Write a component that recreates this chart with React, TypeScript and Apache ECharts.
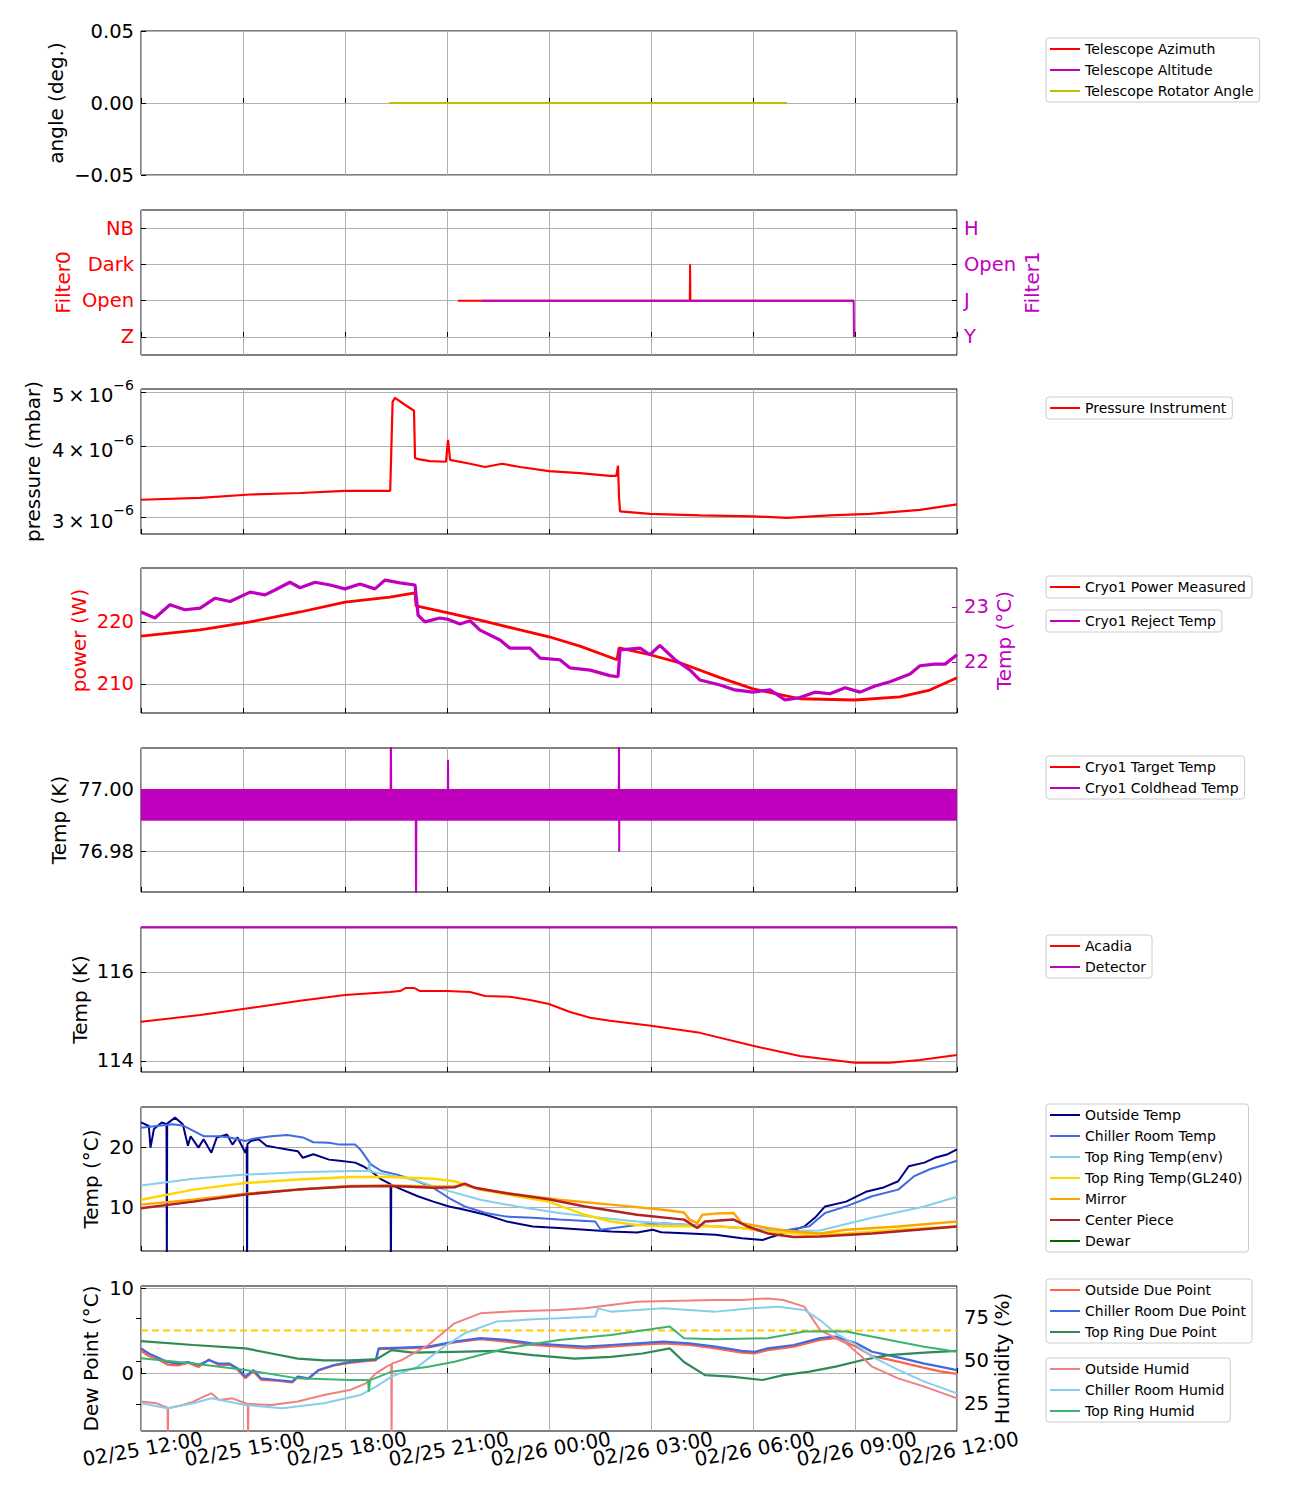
import React, { useEffect, useRef } from "react";
import * as echarts from "echarts";

const FONT = "DejaVu Sans";

// ---------- x axis (hours after 02/25 12:00) ----------
const timeTickLabels = [
  "02/25 12:00", "02/25 15:00", "02/25 18:00", "02/25 21:00", "02/26 00:00",
  "02/26 03:00", "02/26 06:00", "02/26 09:00", "02/26 12:00",
];
const timeTickHours = [0, 3, 6, 9, 12, 15, 18, 21, 24];

// ---------- panel 1 : telescope angles ----------
const telescopeAzimuth = [[7.32, 0], [19.0, 0]];
const telescopeAltitude = [[7.32, 0], [19.0, 0]];
const telescopeRotator = [[7.32, 0], [19.0, 0]];

// ---------- panel 2 : filters ----------
const filter0Labels = ["Z", "Open", "Dark", "NB"];
const filter1Labels = ["Y", "J", "Open", "H"];
const filter0 = [[9.32, 1], [16.14, 1], [16.15, 2], [16.16, 1], [20.97, 1]];
const filter1 = [[10.03, 1], [20.96, 1], [20.97, 0]];

// ---------- panel 3 : pressure (x1e-6 mbar) ----------
const pressureTicks = [3, 4, 5];
const pressure = [
  [0, 3.22], [1.74, 3.245], [3.21, 3.29], [4.68, 3.31], [6.0, 3.34], [7.33, 3.34],
  [7.40, 4.80], [7.47, 4.88], [7.75, 4.75], [8.03, 4.63], [8.06, 3.82], [8.15, 3.80],
  [8.5, 3.77], [8.97, 3.76], [9.03, 4.11], [9.09, 3.79], [9.68, 3.73], [10.12, 3.68],
  [10.62, 3.73], [11.15, 3.68], [12.0, 3.62], [12.91, 3.59], [13.79, 3.55], [13.98, 3.55],
  [14.03, 3.70], [14.06, 3.25], [14.09, 3.07], [14.97, 3.04], [16.44, 3.02], [18.0, 3.01],
  [19.0, 2.99], [20.26, 3.02], [21.44, 3.04], [22.91, 3.09], [24, 3.16],
];

// ---------- panel 4 : cryo power / reject temp ----------
const cryoPower = [
  [0, 217.7], [1.74, 218.7], [3.21, 220.0], [4.68, 221.6], [6.0, 223.2], [7.32, 224.0],
  [8.06, 224.7], [8.09, 222.6], [9.0, 221.5], [9.97, 220.3], [11.15, 218.7], [12.0, 217.6],
  [12.91, 216.1], [14.0, 213.9], [14.06, 215.8], [14.97, 214.7], [15.85, 213.4], [17.03, 211.0],
  [18.0, 209.2], [19.38, 207.6], [21.0, 207.4], [22.32, 207.9], [23.2, 209.0], [24, 211.0],
];
const cryoReject = [
  [0, 22.91], [0.41, 22.80], [0.85, 23.04], [1.29, 22.95], [1.74, 22.98], [2.18, 23.16],
  [2.62, 23.10], [3.21, 23.27], [3.65, 23.22], [3.94, 23.31], [4.38, 23.45], [4.68, 23.35],
  [5.12, 23.45], [5.56, 23.40], [6.0, 23.33], [6.44, 23.42], [6.88, 23.33], [7.18, 23.49],
  [7.62, 23.44], [8.06, 23.40], [8.15, 22.85], [8.35, 22.73], [8.79, 22.80], [9.0, 22.78],
  [9.38, 22.69], [9.68, 22.75], [9.97, 22.58], [10.56, 22.40], [10.85, 22.25], [11.44, 22.25],
  [11.74, 22.07], [12.32, 22.04], [12.62, 21.89], [13.21, 21.85], [13.79, 21.75], [14.03, 21.73],
  [14.09, 22.22], [14.68, 22.25], [14.97, 22.13], [15.26, 22.30], [15.71, 22.04], [16.15, 21.85],
  [16.44, 21.67], [17.03, 21.58], [17.47, 21.49], [18.0, 21.45], [18.5, 21.49], [18.94, 21.31],
  [19.38, 21.35], [19.82, 21.45], [20.26, 21.42], [20.71, 21.53], [21.15, 21.45], [21.59, 21.56],
  [22.03, 21.64], [22.62, 21.78], [22.91, 21.93], [23.35, 21.96], [23.65, 21.96], [24, 22.13],
];

// ---------- panel 5 : cryo temps (K) ----------
const cryoTarget = [[0, 77.0], [24, 77.0]];
const coldheadBandLow = 76.99;
const coldheadBandHigh = 77.0;
const coldhead = [
  [0, 76.995], [7.34, 76.995], [7.35, 77.02], [7.36, 76.995], [8.08, 76.995], [8.09, 76.96],
  [8.10, 76.995], [9.02, 76.995], [9.03, 77.0097], [9.04, 76.995], [14.05, 76.995], [14.06, 77.02],
  [14.065, 76.98], [14.07, 76.995], [24, 76.995],
];

// ---------- panel 6 : acadia / detector ----------
const acadia = [
  [0, 114.88], [1.74, 115.03], [3.21, 115.19], [4.68, 115.35], [6.0, 115.48], [7.32, 115.55],
  [7.62, 115.57], [7.79, 115.64], [8.03, 115.64], [8.21, 115.57], [9.0, 115.57], [9.68, 115.55],
  [10.12, 115.46], [10.85, 115.44], [11.44, 115.37], [12.0, 115.28], [12.62, 115.10], [13.21, 114.97],
  [13.79, 114.90], [15.0, 114.79], [16.44, 114.63], [18.0, 114.34], [19.38, 114.11], [21.0, 113.96],
  [22.03, 113.96], [22.91, 114.02], [24, 114.13],
];
const detector = [[0, 117.0], [24, 117.0]];

// ---------- panel 7 : temperatures (°C) ----------
const outsideTemp = [
  [0, 24.1], [0.23, 23.5], [0.28, 19.9], [0.38, 23.0], [0.61, 24.1], [0.75, 23.8], [0.76, 0], [0.77, 23.9],
  [1.0, 24.9], [1.23, 23.8], [1.38, 20.2], [1.46, 21.8], [1.69, 19.9], [1.84, 21.3], [2.07, 19.05],
  [2.23, 21.6], [2.53, 22.1], [2.69, 20.4], [2.84, 21.6], [3.07, 19.05], [3.11, 20.0], [3.12, 0],
  [3.13, 20.5], [3.23, 21.0], [3.46, 21.3], [3.69, 20.2], [3.99, 19.9], [4.30, 19.6], [4.61, 19.3],
  [4.76, 18.2], [5.07, 18.8], [5.53, 17.9], [5.84, 17.7], [6.30, 17.4], [6.53, 16.8], [6.76, 16.0],
  [7.07, 14.6], [7.34, 13.8], [7.35, 0], [7.36, 13.7], [7.68, 12.9], [8.14, 11.8], [8.60, 10.9],
  [9.06, 10.1], [9.52, 9.55], [10.14, 8.7], [10.75, 7.6], [11.52, 6.76], [12.29, 6.5], [13.06, 6.2],
  [13.82, 5.9], [14.59, 5.75], [15.05, 6.2], [15.3, 5.8], [16.13, 5.6], [16.9, 5.36], [17.67, 4.8],
  [18.28, 4.5], [18.59, 5.1], [19.05, 5.9], [19.51, 6.76], [19.82, 8.2], [20.12, 10.1], [20.74, 10.9],
  [21.35, 12.6], [21.81, 13.2], [22.27, 14.3], [22.58, 16.8], [23.04, 17.4], [23.35, 18.2],
  [23.73, 18.8], [24, 19.6],
];
const chillerTemp = [
  [0, 23.2], [0.46, 23.5], [0.92, 23.8], [1.23, 23.6], [1.54, 22.7], [1.84, 21.8], [2.30, 21.8],
  [2.61, 21.6], [3.07, 21.0], [3.30, 21.4], [3.84, 21.8], [4.30, 22.0], [4.76, 21.6], [5.07, 20.8],
  [5.53, 20.7], [5.84, 20.4], [6.30, 20.4], [6.45, 19.6], [6.76, 17.1], [7.07, 16.0], [7.53, 15.4],
  [7.99, 14.6], [8.60, 13.2], [9.06, 11.5], [9.52, 10.1], [10.14, 9.0], [10.75, 8.4], [11.52, 8.2],
  [12.29, 7.9], [13.36, 7.6], [13.52, 6.2], [14.59, 7.0], [15.36, 7.3], [16.13, 7.0], [16.9, 6.8],
  [17.67, 6.5], [18.43, 5.9], [19.05, 6.2], [19.66, 6.8], [20.12, 9.0], [20.74, 10.1], [21.5, 11.8],
  [22.27, 12.9], [22.73, 15.1], [23.2, 16.3], [23.66, 17.1], [24, 17.7],
];
const topRingEnvTemp = [
  [0, 13.6], [1.54, 14.7], [3.07, 15.4], [4.61, 15.8], [6.14, 16.0], [6.68, 16.0], [6.71, 17.4],
  [6.74, 15.9], [7.22, 15.4], [7.99, 14.6], [8.91, 12.9], [9.98, 11.2], [11.06, 10.1], [12.29, 9.0],
  [13.52, 8.2], [14.59, 7.6], [16.13, 7.0], [17.67, 6.5], [19.2, 6.0], [19.97, 6.1], [21.5, 8.2],
  [23.04, 10.1], [24, 11.7],
];
const topRingGL240Temp = [
  [0, 11.2], [1.54, 12.9], [3.07, 14.0], [4.61, 14.6], [6.14, 15.0], [7.37, 15.0], [8.60, 14.7],
  [9.22, 14.3], [9.98, 12.9], [11.06, 11.8], [11.98, 10.9], [13.06, 8.7], [13.82, 7.6], [14.59, 7.0],
  [15.36, 6.8], [16.9, 6.8], [17.67, 6.5], [18.43, 5.9], [19.66, 5.4], [20.74, 5.6], [22.27, 6.2],
  [24, 6.76],
];
const mirrorTemp = [
  [0, 10.4], [1.54, 11.2], [3.07, 12.2], [4.61, 12.9], [6.14, 13.5], [7.37, 13.6], [8.60, 13.4],
  [9.22, 13.4], [9.52, 13.7], [9.98, 12.9], [11.06, 12.1], [12.29, 11.2], [13.82, 10.4], [15.36, 9.55],
  [15.97, 9.1], [16.13, 7.9], [16.36, 7.3], [16.51, 8.7], [16.9, 8.9], [17.43, 9.0], [17.67, 7.3],
  [18.43, 6.5], [19.2, 5.9], [19.97, 5.6], [20.74, 6.2], [22.27, 6.76], [24, 7.6],
];
const centerPieceTemp = [
  [0, 9.8], [1.54, 10.9], [3.07, 12.1], [4.61, 12.9], [6.14, 13.4], [7.37, 13.5], [8.60, 13.2],
  [9.22, 13.3], [9.52, 13.9], [9.83, 13.2], [10.75, 12.3], [11.98, 11.3], [13.06, 10.1], [14.59, 8.7],
  [15.97, 7.9], [16.36, 6.5], [16.59, 7.6], [17.43, 7.9], [17.82, 6.8], [18.43, 5.6], [19.2, 5.0],
  [19.97, 5.1], [21.5, 5.6], [24, 6.76],
];
const dewarTemp: number[][] = [];

// ---------- panel 8 : dew point (°C) and humidity (%) ----------
const dewThreshold = 5;
const outsideDewPoint = [
  [0, 2.6], [0.23, 2.0], [0.46, 1.7], [0.77, 1.0], [1.08, 0.9], [1.38, 1.2], [1.69, 0.7], [2.0, 1.6],
  [2.3, 0.9], [2.61, 1.0], [2.84, 0.4], [3.07, -0.6], [3.30, 0.2], [3.53, -0.8], [3.99, -0.9],
  [4.45, -1.1], [4.61, -0.5], [4.92, -0.7], [5.22, 0.3], [5.68, 0.9], [6.14, 1.2], [6.61, 1.4],
  [6.91, 1.5], [6.99, 2.8], [7.68, 2.9], [8.45, 3.0], [9.22, 3.6], [9.98, 4.0], [10.75, 3.7],
  [11.52, 3.3], [12.29, 3.1], [13.06, 2.9], [13.82, 3.1], [14.59, 3.3], [15.36, 3.5], [16.13, 3.3],
  [16.9, 2.9], [17.67, 2.4], [18.05, 2.3], [18.43, 2.7], [19.2, 3.1], [19.97, 3.9], [20.43, 4.1],
  [21.04, 3.1], [21.5, 2.0], [21.97, 1.6], [22.43, 1.2], [23.04, 0.6], [23.5, 0.2], [24, -0.1],
];
const chillerDewPoint = [
  [0, 2.9], [0.23, 2.3], [0.46, 1.9], [0.77, 1.3], [1.08, 1.1], [1.38, 1.3], [1.69, 0.94], [2.0, 1.5],
  [2.3, 1.1], [2.61, 1.1], [2.84, 0.55], [3.07, -0.43], [3.30, 0.35], [3.53, -0.63], [3.99, -0.82],
  [4.45, -1.0], [4.61, -0.43], [4.92, -0.63], [5.22, 0.35], [5.68, 0.94], [6.14, 1.3], [6.61, 1.5],
  [6.91, 1.6], [6.99, 2.9], [7.68, 3.0], [8.45, 3.1], [9.22, 3.7], [9.98, 4.1], [10.75, 3.9],
  [11.52, 3.5], [12.29, 3.3], [13.06, 3.1], [13.82, 3.3], [14.59, 3.5], [15.36, 3.7], [16.13, 3.5],
  [16.9, 3.1], [17.67, 2.6], [18.05, 2.5], [18.43, 2.9], [19.2, 3.3], [19.97, 4.1], [20.43, 4.3],
  [21.04, 3.5], [21.5, 2.5], [21.97, 2.1], [22.43, 1.7], [23.04, 1.1], [23.5, 0.75], [24, 0.35],
];
const topRingDewPoint = [
  [0, 3.76], [1.54, 3.3], [3.07, 2.9], [3.84, 2.3], [4.61, 1.7], [5.38, 1.5], [6.14, 1.5], [6.91, 1.6],
  [7.37, 2.7], [7.99, 2.4], [9.22, 2.5], [10.45, 2.6], [11.52, 2.1], [12.75, 1.7], [13.82, 1.9],
  [14.75, 2.3], [15.55, 2.9], [15.97, 1.3], [16.59, -0.24], [17.36, -0.43], [18.28, -0.82],
  [18.89, -0.24], [19.66, 0.16], [20.43, 0.75], [21.2, 1.5], [21.97, 2.1], [23.04, 2.4], [24, 2.6],
];
const outsideHumid = [
  [0, 26.4], [0.46, 25.4], [0.78, 22.8], [0.79, 0], [0.80, 22.5], [1.23, 24.4], [1.54, 26.4],
  [1.84, 29.3], [2.07, 31.2], [2.3, 27.3], [2.69, 28.3], [3.07, 25.4], [3.14, 25.0], [3.15, 0],
  [3.16, 25.0], [3.84, 24.4], [4.61, 26.4], [5.38, 30.2], [6.14, 33.1], [6.61, 37.0], [6.91, 42.8],
  [7.22, 46.7], [7.36, 48.0], [7.37, 0], [7.38, 48.5], [7.68, 50.6], [8.45, 59.3], [9.22, 71.9],
  [9.98, 77.7], [10.75, 78.7], [12.29, 79.7], [13.06, 80.6], [13.82, 82.6], [14.59, 84.5],
  [16.13, 85.1], [16.9, 85.5], [17.67, 85.5], [18.43, 86.4], [18.89, 85.5], [19.51, 81.6],
  [19.97, 68.0], [20.74, 60.3], [21.2, 52.5], [21.5, 46.7], [22.27, 39.9], [23.04, 35.1], [24, 28.3],
];
const chillerHumid = [
  [0, 25.4], [0.77, 22.5], [1.54, 25.4], [2.07, 28.3], [3.07, 24.4], [4.15, 22.5], [5.38, 25.4],
  [6.45, 30.2], [6.91, 35.1], [7.37, 40.9], [8.14, 46.7], [8.91, 58.3], [9.52, 66.1], [10.45, 72.9],
  [11.52, 74.2], [12.29, 74.8], [13.36, 75.8], [13.44, 80.6], [13.82, 78.7], [15.36, 80.6],
  [16.13, 79.7], [16.9, 78.7], [17.97, 80.6], [18.74, 81.6], [19.51, 79.7], [19.97, 73.8],
  [20.43, 66.1], [21.04, 59.3], [21.5, 52.5], [22.27, 44.8], [23.04, 38.0], [24, 31.2],
];
const topRingHumid = [
  [0, 51.6], [1.54, 48.6], [3.07, 44.8], [4.61, 39.9], [6.14, 38.9], [6.68, 38.9], [6.70, 32.2],
  [6.74, 38.9], [7.37, 43.8], [8.45, 46.7], [9.22, 49.6], [10.75, 57.4], [12.29, 62.2], [13.82, 65.1],
  [15.55, 70.0], [15.97, 63.2], [16.9, 62.6], [18.43, 63.2], [19.51, 67.1], [20.74, 67.1],
  [22.27, 61.2], [23.04, 58.3], [24, 55.4],
];

// ---------- layout ----------
const gridTops = [31, 210, 389, 568, 748, 927, 1107, 1286];
const gridHeights = [144, 145, 145, 145, 144, 145, 144, 145];
const GRID_COLOR = "#b0b0b0";
const RED = "#ff0000";
const MAG = "#bf00bf";
const OLIVE = "#bfbf00";

const minusFmt = (v: number, d: number) => (v < 0 ? "\u2212" : "") + Math.abs(v).toFixed(d);

function yAxisDef(o: any) {
  const color = o.color || "#000";
  const custom = o.custom;
  return {
    type: "value",
    gridIndex: o.grid,
    position: o.pos || "left",
    min: o.min,
    max: o.max,
    interval: o.interval,
    name: o.name,
    nameLocation: "middle",
    nameGap: o.nameGap,
    nameRotate: 90,
    nameMoveOverlap: false,
    nameTextStyle: { fontSize: 20, color, fontFamily: FONT },
    axisLine: { show: false },
    axisTick: {
      show: true, inside: true, length: 5,
      lineStyle: { color: o.tickColor || "#000", width: 1 },
      ...(custom ? { customValues: custom } : {}),
    },
    axisLabel: {
      show: true, fontSize: 19.5, color, fontFamily: FONT, margin: 7,
      formatter: o.formatter,
      rich: o.rich,
      ...(custom ? { customValues: custom } : {}),
    },
    splitLine: { show: (o.pos || "left") === "left", lineStyle: { color: GRID_COLOR, width: 1 } },
  };
}

function lineSeries(name: string, data: any[], color: string, xi: number, yi: number, width = 2, extra: any = {}) {
  return {
    type: "line", name, data, xAxisIndex: xi, yAxisIndex: yi,
    symbol: "none", showSymbol: false, color,
    lineStyle: { color, width }, itemStyle: { color },
    clip: true, animation: false, silent: true,
    ...extra,
  };
}

function legendDef(top: number, names: string[]) {
  return {
    data: names, orient: "vertical", left: 1046, top,
    icon: "rect",
    itemWidth: 30, itemHeight: 2, itemGap: 7,
    padding: [4, 6, 4, 4],
    borderColor: "#cccccc", borderWidth: 1, borderRadius: 3,
    backgroundColor: "#fff",
    selectedMode: false,
    textStyle: { fontSize: 14, fontFamily: FONT, color: "#000", lineHeight: 14 },
  };
}

function timeLabelAxis(values: number[], show: boolean) {
  return {
    show: true, fontSize: 20, fontFamily: FONT, color: "#000",
    rotate: 10, align: "center", verticalAlign: "top", margin: 8,
    showMinLabel: true, showMaxLabel: true, hideOverlap: false,
    customValues: values,
    formatter: (v: number) => timeTickLabels[timeTickHours.indexOf(Math.round(v))] || "",
    ...(show ? {} : { show: false }),
  };
}

function buildOption() {
  const grid = gridTops.map((t, i) => ({
    left: 141, width: 816, top: t, height: gridHeights[i],
    show: true, borderColor: "#000", borderWidth: 1, backgroundColor: "transparent",
    containLabel: false, outerBoundsMode: "none",
  }));

  const evenHours = timeTickHours.filter((_, i) => i % 2 === 0);
  const oddHours = timeTickHours.filter((_, i) => i % 2 === 1);

  const xAxis: any[] = gridTops.map((_, i) => ({
    type: "value", gridIndex: i, position: "bottom", min: 0, max: 24, interval: 3,
    axisLine: { show: false },
    axisTick: { show: true, inside: true, length: 5, lineStyle: { color: "#000", width: 1 } },
    splitLine: { show: true, lineStyle: { color: GRID_COLOR, width: 1 } },
    axisLabel: timeLabelAxis(evenHours, i === 7),
  }));
  // second label row for the bottom panel (odd ticks), so no label gets hidden as overlapping
  xAxis.push({
    type: "value", gridIndex: 7, position: "bottom", min: 0, max: 24, interval: 3,
    axisLine: { show: false },
    axisTick: { show: false },
    splitLine: { show: false },
    axisLabel: timeLabelAxis(oddHours, true),
  });

  const logP = (v: number) => Math.log10(v);

  const yAxis = [
    yAxisDef({ grid: 0, min: -0.05, max: 0.05, interval: 0.05, name: "angle (deg.)", nameGap: 75,
      formatter: (v: number) => minusFmt(v, 2) }),
    yAxisDef({ grid: 1, min: -0.5, max: 3.5, custom: [0, 1, 2, 3], name: "Filter0", nameGap: 68, color: RED,
      formatter: (v: number) => filter0Labels[Math.round(v)] || "" }),
    yAxisDef({ grid: 1, pos: "right", min: -0.5, max: 3.5, custom: [0, 1, 2, 3], name: "Filter1", nameGap: 65, color: MAG,
      formatter: (v: number) => filter1Labels[Math.round(v)] || "" }),
    yAxisDef({ grid: 2, min: logP(2.80), max: logP(5.06), custom: pressureTicks.map(logP), name: "pressure (mbar)", nameGap: 98,
      formatter: (v: number) => `{a|${Math.round(Math.pow(10, v))}\u2009\u00d7\u200910}{b|\u22126}`,
      rich: {
        a: { fontSize: 19.5, fontFamily: FONT, color: "#000", verticalAlign: "bottom", lineHeight: 28 },
        b: { fontSize: 14, fontFamily: FONT, color: "#000", verticalAlign: "top", lineHeight: 28 },
      } }),
    yAxisDef({ grid: 3, min: 205.3, max: 228.7, custom: [210, 220], name: "power (W)", nameGap: 52, color: RED,
      formatter: (v: number) => String(Math.round(v)) }),
    yAxisDef({ grid: 3, pos: "right", min: 21.07, max: 23.71, custom: [22, 23], name: "Temp (\u00b0C)", nameGap: 37, color: MAG,
      tickColor: MAG, formatter: (v: number) => String(Math.round(v)) }),
    yAxisDef({ grid: 4, min: 76.967, max: 77.0135, custom: [76.98, 77.0], name: "Temp (K)", nameGap: 72,
      formatter: (v: number) => v.toFixed(2) }),
    yAxisDef({ grid: 5, min: 113.75, max: 117.01, custom: [114, 116], name: "Temp (K)", nameGap: 51,
      formatter: (v: number) => String(Math.round(v)) }),
    yAxisDef({ grid: 6, min: 2.67, max: 26.67, custom: [10, 20], name: "Temp (\u00b0C)", nameGap: 40,
      formatter: (v: number) => String(Math.round(v)) }),
    yAxisDef({ grid: 7, min: -6.82, max: 10.24, custom: [0, 10], name: "Dew Point (\u00b0C)", nameGap: 40,
      formatter: (v: number) => String(Math.round(v)) }),
    yAxisDef({ grid: 7, pos: "right", min: 9.3, max: 93.6, custom: [25, 50, 75], name: "Humidity (%)", nameGap: 35,
      formatter: (v: number) => String(Math.round(v)) }),
  ];

  const series: any[] = [
    lineSeries("Telescope Azimuth", telescopeAzimuth, RED, 0, 0),
    lineSeries("Telescope Altitude", telescopeAltitude, MAG, 0, 0),
    lineSeries("Telescope Rotator Angle", telescopeRotator, OLIVE, 0, 0),

    lineSeries("Filter0", filter0, RED, 1, 1),
    lineSeries("Filter1", filter1, MAG, 1, 2),

    lineSeries("Pressure Instrument", pressure.map(([h, p]) => [h, logP(p)]), RED, 2, 3, 2.2),

    lineSeries("Cryo1 Power Measured", cryoPower, RED, 3, 4, 2.8),
    lineSeries("Cryo1 Reject Temp", cryoReject, MAG, 3, 5, 3.2),

    lineSeries("Cryo1 Target Temp", cryoTarget, RED, 4, 6, 1.5),
    lineSeries("Cryo1 Coldhead Temp", coldhead, MAG, 4, 6, 2, {
      markArea: {
        silent: true, z: 10,
        itemStyle: { color: MAG, opacity: 1 },
        data: [[{ xAxis: 0, yAxis: coldheadBandLow }, { xAxis: 24, yAxis: coldheadBandHigh + 0.0002 }]],
      },
    }),

    lineSeries("Acadia", acadia, RED, 5, 7),
    lineSeries("Detector", detector, MAG, 5, 7),

    lineSeries("Outside Temp", outsideTemp, "#000080", 6, 8),
    lineSeries("Chiller Room Temp", chillerTemp, "#4169e1", 6, 8),
    lineSeries("Top Ring Temp(env)", topRingEnvTemp, "#87ceeb", 6, 8),
    lineSeries("Top Ring Temp(GL240)", topRingGL240Temp, "#ffd700", 6, 8, 2.5),
    lineSeries("Mirror", mirrorTemp, "#ffa500", 6, 8, 2.5),
    lineSeries("Center Piece", centerPieceTemp, "#b22222", 6, 8, 2.5),
    lineSeries("Dewar", dewarTemp, "#006400", 6, 8),

    lineSeries("Dew Point Threshold", [[0, dewThreshold], [24, dewThreshold]], "#ffcc00", 7, 9, 2, {
      lineStyle: { color: "#ffcc00", width: 2, type: [7, 4] },
    }),
    lineSeries("Outside Due Point", outsideDewPoint, "#ff6347", 7, 9, 2.2),
    lineSeries("Chiller Room Due Point", chillerDewPoint, "#4169e1", 7, 9, 2.2),
    lineSeries("Top Ring Due Point", topRingDewPoint, "#2e8b57", 7, 9, 2.2),
    lineSeries("Outside Humid", outsideHumid, "#f08080", 7, 10),
    lineSeries("Chiller Room Humid", chillerHumid, "#87ceeb", 7, 10),
    lineSeries("Top Ring Humid", topRingHumid, "#3cb371", 7, 10),
  ];

  const legend = [
    legendDef(38, ["Telescope Azimuth", "Telescope Altitude", "Telescope Rotator Angle"]),
    legendDef(397, ["Pressure Instrument"]),
    legendDef(576, ["Cryo1 Power Measured"]),
    legendDef(610, ["Cryo1 Reject Temp"]),
    legendDef(756, ["Cryo1 Target Temp", "Cryo1 Coldhead Temp"]),
    legendDef(935, ["Acadia", "Detector"]),
    legendDef(1104, ["Outside Temp", "Chiller Room Temp", "Top Ring Temp(env)", "Top Ring Temp(GL240)", "Mirror", "Center Piece", "Dewar"]),
    legendDef(1279, ["Outside Due Point", "Chiller Room Due Point", "Top Ring Due Point"]),
    legendDef(1358, ["Outside Humid", "Chiller Room Humid", "Top Ring Humid"]),
  ];

  return {
    animation: false,
    backgroundColor: "#ffffff",
    textStyle: { fontFamily: FONT },
    grid, xAxis, yAxis, series, legend,
  };
}

export default function App() {
  const ref = useRef<HTMLDivElement>(null);
  useEffect(() => {
    const chart = echarts.init(ref.current as HTMLDivElement, null, { renderer: "svg" });
    chart.setOption(buildOption() as any);
    return () => chart.dispose();
  }, []);
  return (
    <div
      ref={ref}
      style={{ position: "absolute", left: 0, top: 0, width: 1300, height: 1500, background: "#fff" }}
    />
  );
}
